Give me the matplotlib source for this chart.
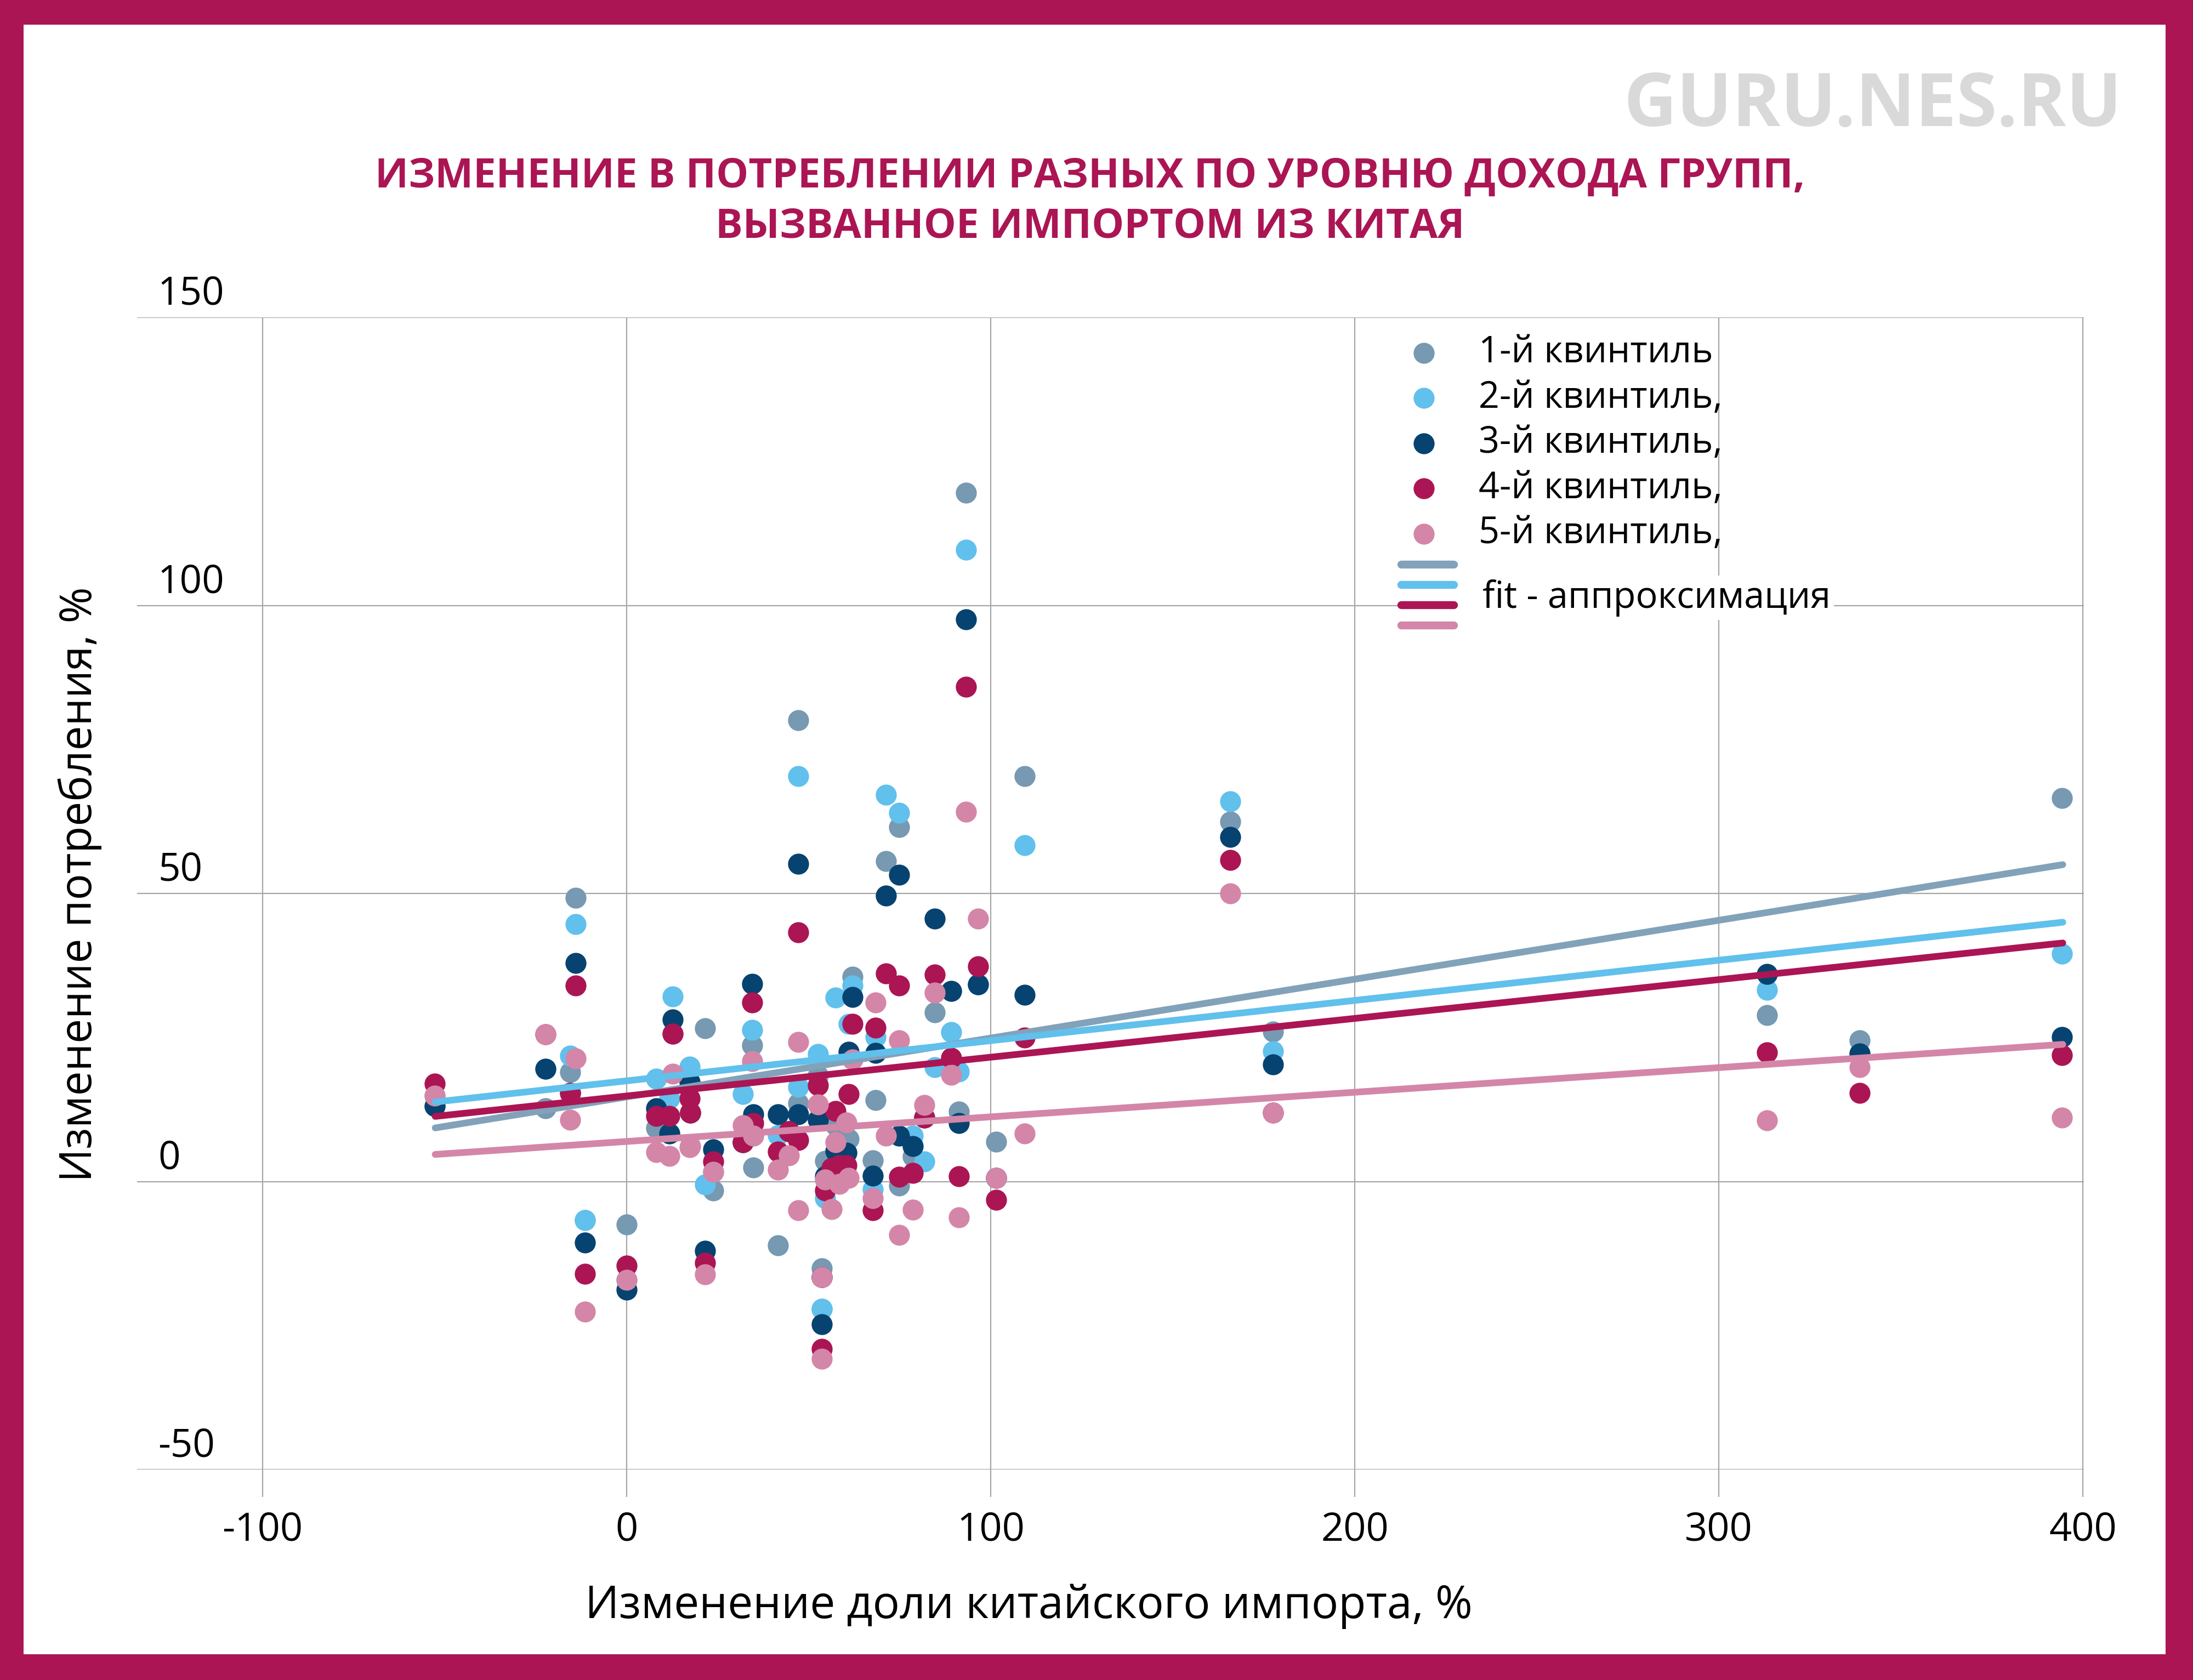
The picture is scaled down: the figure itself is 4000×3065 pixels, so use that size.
import numpy as np
import matplotlib.pyplot as plt
from matplotlib.lines import Line2D
from matplotlib.patches import Rectangle
from matplotlib.legend_handler import HandlerBase

plt.rcParams['font.family'] = ['Open Sans', 'DejaVu Sans']
plt.rcParams['axes.unicode_minus'] = False

# change in Chinese import share by industry, %
import_change = [-52.7, -22.3, -15.5, -14.0, -11.5, 0.0, 8.1, 12.7, 11.8, 17.3,
                 17.4, 21.5, 23.8, 34.5, 34.8, 31.9, 41.5, 44.5, 47.2, 47.1,
                 52.5, 53.6, 53.6, 54.5, 57.4, 56.3, 58.4, 62.0, 61.0, 60.4,
                 67.6, 68.3, 71.3, 74.9, 74.8, 78.6, 81.8, 84.6, 89.2, 91.2,
                 93.2, 96.6, 101.5, 109.3, 165.8, 177.5, 313.3, 338.7, 394.3]

# change in consumption by income quintile, %
q1 = [13.1, 12.7, 19.0, 49.2, -6.7, -7.5, 9.3, 25.6, 8.3, 17.3,
      11.9, 26.6, -1.6, 23.6, 2.4, 6.8, -11.1, 8.7, 80.1, 13.6,
      18.4, -22.1, -15.1, 3.6, 9.8, 2.3, 2.8, 35.5, 7.4, 5.0,
      3.7, 14.1, 55.6, 61.5, -0.7, 4.3, 11.1, 29.4, 33.1, 12.1,
      119.6, 34.2, 6.9, 70.4, 62.5, 26.0, 28.9, 24.5, 66.6]
q2 = [14.9, 19.6, 21.8, 44.7, -6.7, -17.1, 17.8, 32.1, 14.4, 19.9,
      11.9, -0.5, 1.7, 26.3, 7.9, 15.2, 8.0, 8.7, 70.4, 16.4,
      22.1, -22.1, -16.6, -2.9, 31.9, 2.3, 2.8, 34.0, 27.4, 5.0,
      -1.4, 25.1, 67.1, 64.0, 7.9, 7.9, 3.5, 19.8, 25.9, 19.1,
      109.7, 34.2, 0.6, 58.4, 66.0, 22.6, 33.3, 22.2, 39.5]
q3 = [13.1, 19.6, 15.4, 37.9, -10.6, -18.8, 12.7, 28.1, 8.3, 17.3,
      11.9, -12.0, 5.6, 34.3, 11.7, 6.8, 11.7, 8.7, 55.1, 11.7,
      10.7, -24.8, -16.6, 0.9, 5.3, 2.3, 2.8, 32.0, 22.5, 5.0,
      1.0, 22.3, 49.6, 53.2, 7.9, 6.1, 11.1, 45.6, 33.1, 10.1,
      97.6, 34.2, 0.6, 32.4, 59.8, 20.3, 36.0, 22.2, 25.1]
q4 = [17.0, 25.5, 15.4, 34.0, -16.0, -14.6, 11.4, 25.6, 11.4, 14.4,
      11.9, -14.1, 3.5, 31.1, 10.1, 6.8, 5.2, 8.7, 43.2, 7.2,
      16.7, -29.1, -16.6, -1.6, 12.2, 2.3, 2.8, 27.4, 15.2, 2.8,
      -5.0, 26.7, 36.1, 34.0, 0.8, 1.5, 11.1, 35.9, 21.5, 0.9,
      85.9, 37.3, -3.2, 25.0, 55.8, 11.9, 22.4, 15.4, 21.9]
q5 = [14.9, 25.5, 10.7, 21.4, -22.6, -17.1, 5.1, 18.7, 4.4, 5.9,
      6.1, -16.1, 1.7, 20.9, 7.9, 9.8, 2.0, 4.5, 24.2, -5.0,
      13.4, -30.8, -16.6, 0.3, 6.8, -4.8, -0.4, 21.2, 0.6, 10.2,
      -2.9, 31.1, 7.9, 24.5, -9.3, -4.9, 13.3, 32.8, 18.5, -6.2,
      64.2, 45.6, 0.6, 8.3, 50.0, 11.9, 10.6, 19.8, 11.1]

# linear fit lines, read at their end points
fit_x = [-52.6, 394.5]
fit_q1 = [9.3, 55.0]
fit_q2 = [13.8, 45.0]
fit_q4 = [11.3, 41.4]
fit_q5 = [4.7, 23.8]

labels = ['1-й квинтиль', '2-й квинтиль,', '3-й квинтиль,', '4-й квинтиль,', '5-й квинтиль,']
dot_colors = ['#7799B2', '#61C0EC', '#074370', '#AB1554', '#D486A8']
line_colors = ['#82A2BA', '#61C0EC', '#AB1554', '#D486A8']
frame_col = '#AB1554'
grid_col = '#A6A6A6'

fig = plt.figure(figsize=(40, 30.65), dpi=100)
fig.patch.set_facecolor(frame_col)
fig.add_artist(Rectangle((43 / 4000, 47 / 3065), (3950 - 43) / 4000, (3020 - 47) / 3065,
                         transform=fig.transFigure, facecolor='white', edgecolor='none', zorder=-10))

ax = fig.add_axes([250 / 4000, 384 / 3065, (3801 - 250) / 4000, (2486 - 384) / 3065])
ax.set_facecolor('white')
ax.set_xlim(-134.5, 400.3)
ax.set_ylim(-50, 150)
for s in ax.spines.values():
    s.set_visible(False)

ax.set_xticks([-100, 0, 100, 200, 300, 400])
ax.set_yticks([-50, 0, 50, 100, 150])
ax.grid(True, color=grid_col, lw=1.6)
ax.set_axisbelow(True)
ax.tick_params(axis='x', length=36, width=1.6, color=grid_col, pad=18, labelsize=52)
ax.tick_params(axis='y', length=0, labelleft=False)
for v in [-50, 0, 50, 100, 150]:
    ax.text(0.0107, v + 2.2, str(v), transform=ax.get_yaxis_transform(),
            ha='left', va='baseline', fontsize=51)

handles = []
for ys, c, lab in zip([q1, q2, q3, q4, q5], dot_colors, labels):
    h = ax.scatter(import_change, ys, s=760, color=c, linewidths=0, zorder=3, label=lab)
    handles.append(h)

fits = []
for ys, c in zip([fit_q1, fit_q2, fit_q4, fit_q5], line_colors):
    ln, = ax.plot(fit_x, ys, color=c, lw=8.8, solid_capstyle='round', zorder=4)
    fits.append(ln)


class StackedLines(HandlerBase):
    def create_artists(self, legend, orig_handle, xdescent, ydescent, width, height, fontsize, trans):
        arts = []
        n = len(orig_handle)
        for i, ln in enumerate(orig_handle):
            y = height / 2 - ydescent + ((n - 1) / 2 - i) * 26.6
            arts.append(Line2D([-xdescent, width - xdescent], [y, y], color=ln.get_color(),
                               lw=10.4, solid_capstyle='round', transform=trans))
        return arts


leg1 = ax.legend(handles=handles, loc='upper left', bbox_to_anchor=(2549 / 4000, 0.801),
                 bbox_transform=fig.transFigure, frameon=False, fontsize=48,
                 borderpad=0, borderaxespad=0, handlelength=1.44, handletextpad=0.78,
                 labelspacing=0.225, scatterpoints=1)
ax.add_artist(leg1)
leg2 = ax.legend(handles=[tuple(fits)], labels=['fit - аппроксимация'],
                 handler_map={tuple: StackedLines()}, loc='upper left',
                 bbox_to_anchor=(2549 / 4000, (3065 - 1050) / 3065), bbox_transform=fig.transFigure,
                 frameon=True, facecolor='white', edgecolor='none', framealpha=1, fontsize=48,
                 borderpad=0.1, borderaxespad=0, handlelength=1.44, handletextpad=0.78)

fig.text(0.497, (3065 - 342) / 3065, 'ИЗМЕНЕНИЕ В ПОТРЕБЛЕНИИ РАЗНЫХ ПО УРОВНЮ ДОХОДА ГРУПП,',
         ha='center', va='baseline', fontsize=53.5, fontweight='bold', color=frame_col)
fig.text(0.497, (3065 - 433) / 3065, 'ВЫЗВАННОЕ ИМПОРТОМ ИЗ КИТАЯ',
         ha='center', va='baseline', fontsize=53.5, fontweight='bold', color=frame_col)
fig.text(3870 / 4000, (3065 - 230) / 3065, 'GURU.NES.RU', ha='right', va='baseline',
         fontsize=96.5, fontweight='bold', color='#D9D9D9')

fig.text(0.469, (3065 - 2952) / 3065, 'Изменение доли китайского импорта, %',
         ha='center', va='baseline', fontsize=59)
fig.text(186 / 4000, (3065 - 1613) / 3065, 'Изменение потребления, %', rotation=90,
         ha='right', va='center', fontsize=57.5)

fig.savefig('out.png', dpi=100, facecolor=fig.get_facecolor())
